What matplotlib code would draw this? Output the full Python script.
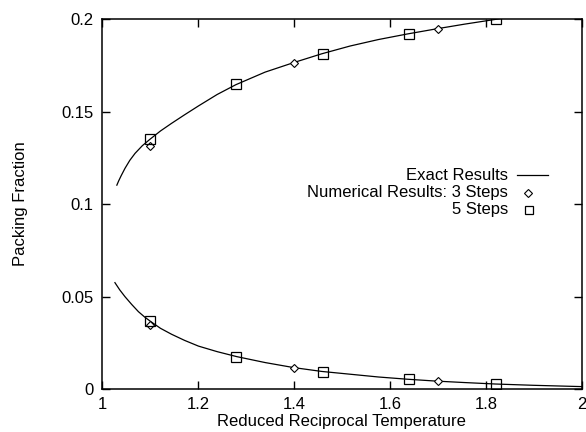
import matplotlib
matplotlib.use("Agg")
import matplotlib.pyplot as plt

plt.rcParams['font.family'] = ['Liberation Sans', 'DejaVu Sans']

# Exact results
exact_upper_x = [1.031, 1.035, 1.040, 1.048, 1.058, 1.069, 1.084, 1.100, 1.122, 1.145, 1.172, 1.201, 1.240, 1.279, 1.340, 1.399, 1.458, 1.517, 1.576, 1.636, 1.695, 1.755, 1.820, 1.860]
exact_upper_y = [0.1102, 0.1126, 0.1153, 0.1193, 0.1236, 0.1274, 0.1315, 0.1350, 0.1395, 0.1436, 0.1482, 0.1530, 0.1592, 0.1645, 0.1713, 0.1764, 0.1812, 0.1854, 0.1889, 0.1919, 0.1946, 0.1972, 0.1998, 0.2012]
exact_lower_x = [1.027, 1.037, 1.048, 1.062, 1.076, 1.089, 1.102, 1.122, 1.145, 1.172, 1.201, 1.240, 1.281, 1.340, 1.399, 1.458, 1.517, 1.576, 1.636, 1.695, 1.755, 1.820, 1.900, 2.000]
exact_lower_y = [0.0575, 0.0536, 0.0499, 0.0457, 0.0418, 0.0389, 0.0364, 0.0328, 0.0296, 0.0263, 0.0232, 0.0202, 0.0175, 0.0143, 0.0116, 0.0095, 0.0080, 0.0065, 0.0053, 0.0043, 0.0035, 0.0027, 0.0020, 0.0013]

# Numerical results: 3 steps (diamonds)
steps3_x = [1.10, 1.40, 1.70]
steps3_upper = [0.1312, 0.1764, 0.1946]
steps3_lower = [0.0344, 0.0115, 0.0043]

# Numerical results: 5 steps (squares)
steps5_x = [1.10, 1.28, 1.46, 1.64, 1.82]
steps5_upper = [0.1350, 0.1649, 0.1812, 0.1919, 0.1998]
steps5_lower = [0.0368, 0.0175, 0.0094, 0.0052, 0.0028]

xticks = [1, 1.2, 1.4, 1.6, 1.8, 2]
xticklabels = ['1', '1.2', '1.4', '1.6', '1.8', '2']
yticks = [0, 0.05, 0.1, 0.15, 0.2]
yticklabels = ['0', '0.05', '0.1', '0.15', '0.2']

fig = plt.figure(figsize=(5.86, 4.32), dpi=100)
ax = fig.add_axes([0.174, 0.0995, 0.819, 0.8565])

fs = 12
lw = 0.9
ax.plot(exact_upper_x, exact_upper_y, color='black', lw=lw)
ax.plot(exact_lower_x, exact_lower_y, color='black', lw=lw)
mk3 = dict(marker='D', markersize=4.2, markerfacecolor='white', markeredgecolor='black', markeredgewidth=0.8, linestyle='none')
mk5 = dict(marker='s', markersize=6.5, markerfacecolor='none', markeredgecolor='black', markeredgewidth=0.9, linestyle='none')
ax.plot(steps3_x, steps3_upper, **mk3)
ax.plot(steps3_x, steps3_lower, **mk3)
ax.plot(steps5_x, steps5_upper, **mk5)
ax.plot(steps5_x, steps5_lower, **mk5)

ax.set_xlim(1, 2)
ax.set_ylim(0, 0.2)
ax.set_xticks(xticks)
ax.set_xticklabels(xticklabels)
ax.set_yticks(yticks)
ax.set_yticklabels(yticklabels)
ax.tick_params(direction='in', length=6, width=1, top=True, right=True, labelsize=fs, pad=6)
for s in ax.spines.values():
    s.set_linewidth(1.1)

ax.set_xlabel('Reduced Reciprocal Temperature', fontsize=fs, labelpad=1)
ax.set_ylabel('Packing Fraction', fontsize=fs, labelpad=24)

# Legend drawn manually (right-aligned text)
tx = 0.846
ys = [0.578, 0.530, 0.484]
labels = ['Exact Results', 'Numerical Results: 3 Steps', '5 Steps']
for yy, lab in zip(ys, labels):
    ax.text(tx, yy, lab, transform=ax.transAxes, ha='right', va='center', fontsize=fs)
ax.plot([0.865, 0.929], [ys[0], ys[0]], transform=ax.transAxes, color='black', lw=lw)
ax.plot([0.888], [ys[1]], transform=ax.transAxes, **dict(mk3, markersize=3.8))
ax.plot([0.890], [ys[2]], transform=ax.transAxes, **dict(mk5, markersize=5.5))

fig.savefig('out.png', dpi=100)
